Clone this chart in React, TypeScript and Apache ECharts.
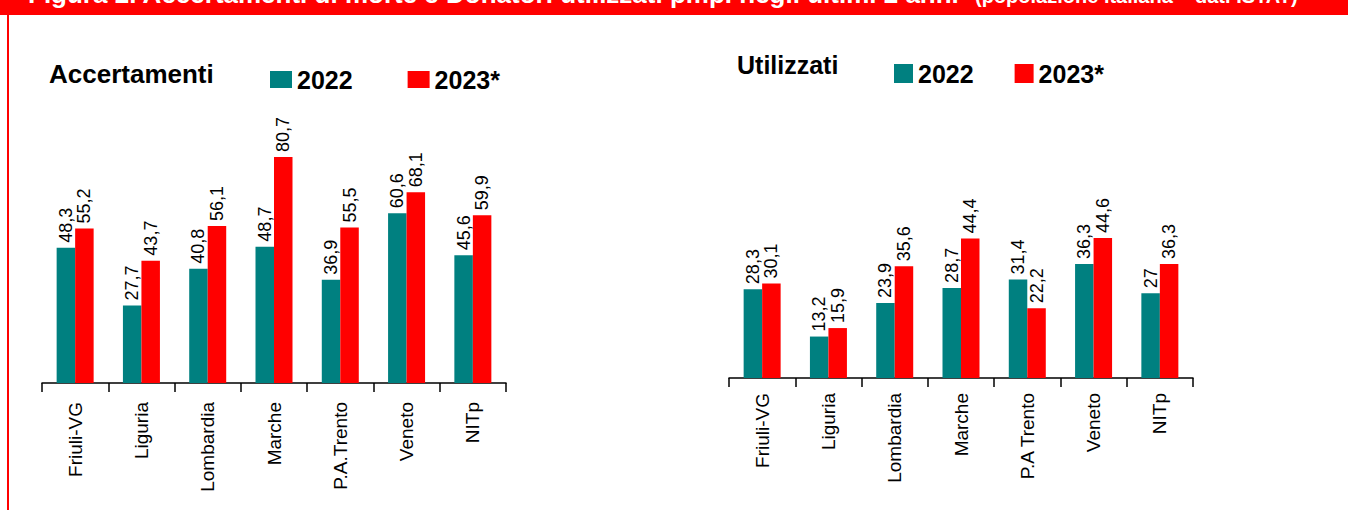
import React, { useEffect, useRef } from "react";
import * as echarts from "echarts";

const leftCategories = ["Friuli-VG", "Liguria", "Lombardia", "Marche", "P.A.Trento", "Veneto", "NITp"];
const rightCategories = ["Friuli-VG", "Liguria", "Lombardia", "Marche", "P.A Trento", "Veneto", "NITp"];
const seriesNames = ["2022", "2023*"];
const accertamenti2022 = [48.3, 27.7, 40.8, 48.7, 36.9, 60.6, 45.6];
const accertamenti2023 = [55.2, 43.7, 56.1, 80.7, 55.5, 68.1, 59.9];
const utilizzati2022 = [28.3, 13.2, 23.9, 28.7, 31.4, 36.3, 27];
const utilizzati2023 = [30.1, 15.9, 35.6, 44.4, 22.2, 44.6, 36.3];

const TEAL = "#008080";
const RED = "#FF0000";
const FONT = "'Liberation Sans', Arial, sans-serif";

const fmt = (p: any) => String(p.value).replace(".", ",");

function barSeries(name: string, data: number[], color: string, idx: number) {
  return {
    type: "bar",
    name,
    data,
    xAxisIndex: idx,
    yAxisIndex: idx,
    barWidth: 18.5,
    barGap: "0%",
    itemStyle: { color },
    label: {
      show: true,
      position: "top",
      rotate: 90,
      align: "left",
      verticalAlign: "middle",
      distance: 5,
      formatter: fmt,
      color: "#000",
      fontSize: 18,
      fontFamily: FONT,
    },
  };
}

function catAxis(data: string[], grid: number, margin: number) {
  return {
    type: "category",
    gridIndex: grid,
    data,
    axisLine: { lineStyle: { color: "#000", width: 1.5 } },
    axisTick: { show: true, length: 9, alignWithLabel: false, lineStyle: { color: "#000", width: 1.5 } },
    axisLabel: { rotate: 90, interval: 0, margin, color: "#000", fontSize: 19, fontFamily: FONT },
  };
}

function valAxis(grid: number, max: number) {
  return {
    type: "value",
    gridIndex: grid,
    min: 0,
    max,
    show: false,
    splitLine: { show: false },
  };
}

export default function App() {
  const ref = useRef<HTMLDivElement>(null);
  useEffect(() => {
    if (!ref.current) return;
    const chart = echarts.init(ref.current, undefined, { renderer: "svg" });
    const legendBase = {
      data: seriesNames,
      icon: "rect",
      orient: "horizontal",
      padding: 0,
      selectedMode: false,
      textStyle: { fontSize: 25, fontWeight: "bold", color: "#000", fontFamily: FONT, lineHeight: 25 },
    };
    chart.setOption({
      animation: false,
      backgroundColor: "#fff",
      color: [TEAL, RED],
      grid: [
        { left: 42, width: 464, top: 103, bottom: 127 },
        { left: 729, width: 464, top: 221, bottom: 132 },
      ],
      xAxis: [catAxis(leftCategories, 0, 19), catAxis(rightCategories, 1, 15)],
      yAxis: [valAxis(0, 100), valAxis(1, 50)],
      legend: [
        { ...legendBase, left: 270, top: 67, itemWidth: 22, itemHeight: 17, itemGap: 55 },
        { ...legendBase, left: 894, top: 61, itemWidth: 19, itemHeight: 19, itemGap: 41 },
      ],
      series: [
        barSeries(seriesNames[0], accertamenti2022, TEAL, 0),
        barSeries(seriesNames[1], accertamenti2023, RED, 0),
        barSeries(seriesNames[0], utilizzati2022, TEAL, 1),
        barSeries(seriesNames[1], utilizzati2023, RED, 1),
      ],
      graphic: [
        { type: "rect", shape: { x: 0, y: 0, width: 1348, height: 15 }, style: { fill: RED }, silent: true },
        { type: "line", shape: { x1: 8, y1: 15, x2: 8, y2: 510 }, style: { stroke: RED, lineWidth: 2 }, silent: true },
        {
          type: "text",
          x: 28,
          y: -6,
          style: {
            text: "Figura 2. Accertamenti di morte e Donatori utilizzati pmp. negli ultimi 2 anni",
            fill: "#fff",
            font: "bold 26px " + FONT,
            verticalAlign: "middle",
          },
          silent: true,
        },
        {
          type: "text",
          x: 975,
          y: -4,
          style: {
            text: "(popolazione italiana – dati ISTAT)",
            fill: "#fff",
            font: "bold 20px " + FONT,
            verticalAlign: "middle",
          },
          silent: true,
        },
        {
          type: "text",
          x: 49,
          y: 74,
          style: { text: "Accertamenti", fill: "#000", font: "bold 26px " + FONT, verticalAlign: "middle" },
        },
        {
          type: "text",
          x: 737,
          y: 65,
          style: { text: "Utilizzati", fill: "#000", font: "bold 25px " + FONT, verticalAlign: "middle" },
        },
      ],
    });
    return () => chart.dispose();
  }, []);
  return <div ref={ref} style={{ position: "fixed", left: 0, top: 0, width: 1348, height: 510 }} />;
}
